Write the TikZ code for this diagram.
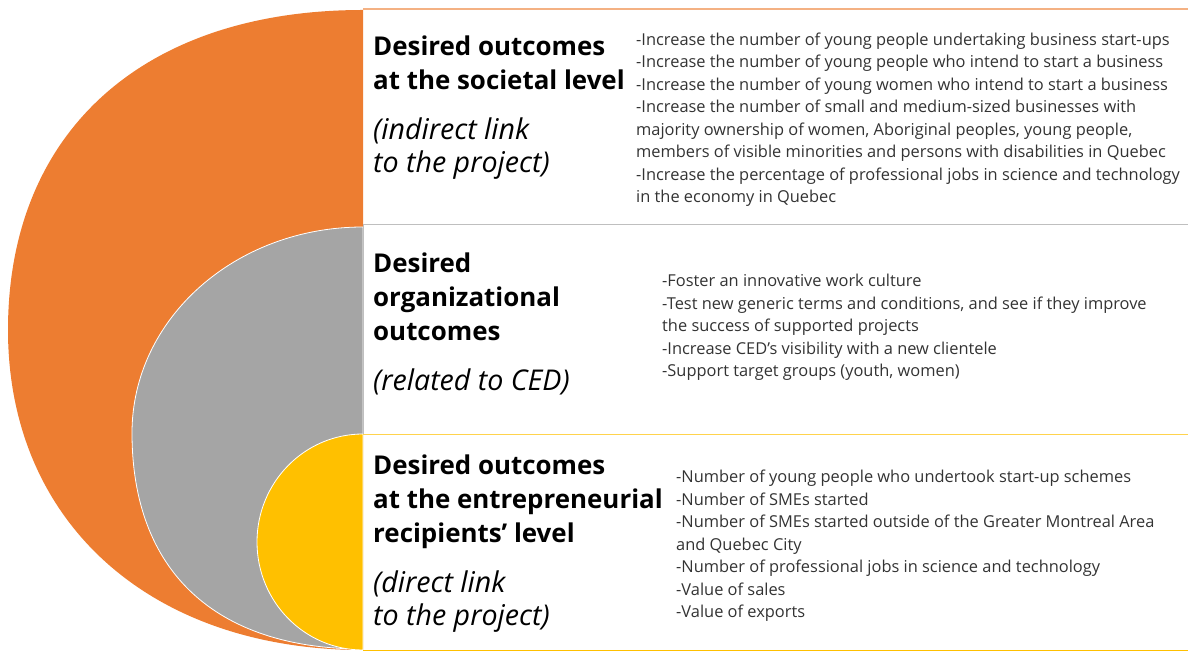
\documentclass[tikz,border=0pt]{standalone}
\usepackage{fontspec}
\setmainfont{Open Sans}
\definecolor{orangefill}{HTML}{ED7D31}
\definecolor{grayfill}{HTML}{A5A5A5}
\definecolor{yellowfill}{HTML}{FFC000}
\definecolor{orangeline}{HTML}{F4B183}
\definecolor{grayline}{HTML}{BFBFBF}
\definecolor{yellowline}{HTML}{FFD34D}
\begin{document}
\begin{tikzpicture}[x=1pt,y=1pt]\tikzset{heading/.style = {anchor=base west, align=left, inner sep=0pt, font=\fontsize{25.9}{34}\selectfont\bfseries},
	aside/.style = {anchor=base west, align=left, inner sep=0pt, font=\fontsize{28.6}{33.5}\selectfont\itshape},
	detail/.style = {anchor=base west, align=left, inner sep=0pt, font=\fontsize{16.4}{22.5}\selectfont, text=black!80}}

		\useasboundingbox (0,0) rectangle (1188,652);

		% the three nested half rings
		\fill[orangefill] (363,642) .. controls (143,642) and (8,520) .. (8,322)
			.. controls (8,130) and (150,2) .. (363,2) -- cycle;
		\filldraw[fill=grayfill, draw=white, line width=0.8] (363,425) .. controls (235,425) and (132,333) .. (132,219)
			.. controls (132,81) and (215,3) .. (363,3) -- cycle;
		\filldraw[fill=yellowfill, draw=white, line width=0.8] (363,218) arc[start angle=90, end angle=270, x radius=106pt, y radius=108pt] -- cycle;

		% panel rules
		\draw[orangeline, line width=1.5] (363,643) -- (1188,643);
		\draw[grayline, line width=1] (363,427) -- (1188,427);
		\draw[grayline, line width=0.6] (363.5,427) -- (363.5,218);
		\draw[yellowline, line width=1.5] (363,217.5) -- (1188,217.5);
		\draw[yellowfill, line width=1.5] (363,1.5) -- (1188,1.5);

		% text nodes sit on the baseline of their last line
		\node[heading] (societal) at (373,562) {Desired outcomes\\at the societal level};
		\node[aside] (societalnote) at (373,479) {(indirect link\\to the project)};
		\node[detail] (societallist) at (636,449) {-Increase the number of young people undertaking business start-ups\\
			-Increase the number of young people who intend to start a business\\
			-Increase the number of young women who intend to start a business\\
			-Increase the number of small and medium-sized businesses with\\
			majority ownership of women, Aboriginal peoples, young people,\\
			members of visible minorities and persons with disabilities in Quebec\\
			-Increase the percentage of professional jobs in science and technology\\
			in the economy in Quebec};

		\node[heading] (organizational) at (373,311) {Desired\\organizational\\outcomes};
		\node[aside] (organizationalnote) at (373,261) {(related to CED)};
		\node[detail] (organizationallist) at (662,275) {-Foster an innovative work culture\\
			-Test new generic terms and conditions, and see if they improve\\
			the success of supported projects\\
			-Increase CED’s visibility with a new clientele\\
			-Support target groups (youth, women)};

		\node[heading] (recipients) at (373,109) {Desired outcomes\\at the entrepreneurial\\recipients’ level};
		\node[aside] (recipientsnote) at (373,26) {(direct link\\to the project)};
		\node[detail] (recipientslist) at (676,34) {-Number of young people who undertook start-up schemes\\
			-Number of SMEs started\\
			-Number of SMEs started outside of the Greater Montreal Area\\
			and Quebec City\\
			-Number of professional jobs in science and technology\\
			-Value of sales\\
			-Value of exports};
	\end{tikzpicture}
\end{document}
